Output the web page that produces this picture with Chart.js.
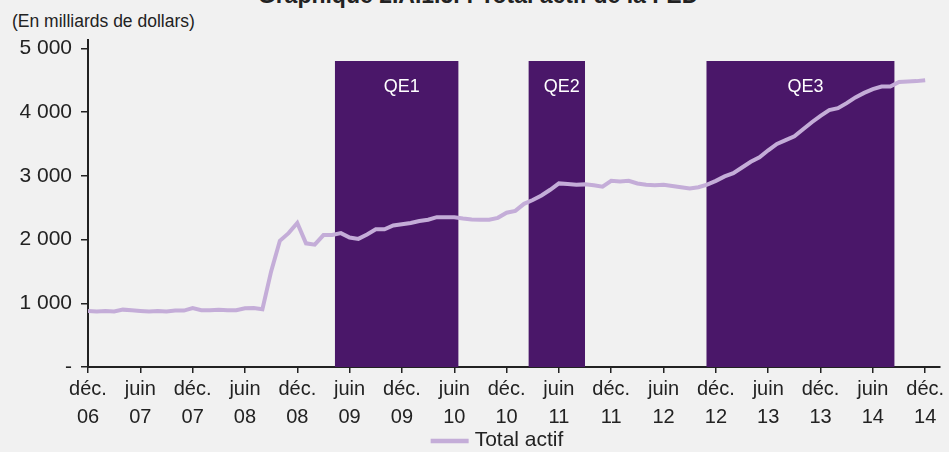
<!DOCTYPE html>
<html>
<head>
<meta charset="utf-8">
<script src="https://cdn.jsdelivr.net/npm/chart.js@4.4.0/dist/chart.umd.min.js"></script>
<style>
  body { margin: 0; background: #f1f1f1; }
  #wrap { position: relative; width: 949px; height: 452px; overflow: hidden; }
  #title { position: absolute; top: -18px; left: 0; width: 956px; text-align: center;
           font: bold 23px 'Liberation Sans', Arial, sans-serif; color: #222; }
  #unit { position: absolute; left: 12px; top: 11px; font: 17.5px 'Liberation Sans', Arial, sans-serif; color: #222; }
  canvas { position: absolute; left: 0; top: 0; }
</style>
</head>
<body>
<div id="wrap">
  <div id="title">Graphique 2.A.1.5. : Total actif de la FED</div>
  <div id="unit">(En milliards de dollars)</div>
  <canvas id="myChart" width="949" height="452"></canvas>
</div>
<script>
// Total actif de la FED, fin de mois, déc. 2006 -> déc. 2014 (milliards de dollars)
const totalActif = [
  880,                                                         // déc. 06
  870, 880, 870, 900, 890, 880, 870, 880, 870, 885, 885, 925,  // 2007
  890, 890, 900, 890, 890, 920, 925, 905, 1500, 1980, 2100, 2260, // 2008
  1940, 1920, 2070, 2070, 2100, 2030, 2010, 2080, 2160, 2160, 2220, 2240, // 2009
  2260, 2290, 2310, 2350, 2350, 2350, 2330, 2315, 2310, 2310, 2340, 2420, // 2010
  2450, 2560, 2620, 2690, 2780, 2880, 2870, 2860, 2865, 2850, 2830, 2920, // 2011
  2910, 2920, 2880, 2860, 2850, 2860, 2840, 2820, 2800, 2820, 2860, 2920, // 2012
  2990, 3040, 3130, 3220, 3290, 3400, 3500, 3560, 3620, 3730, 3840, 3940, // 2013
  4030, 4060, 4140, 4230, 4300, 4360, 4400, 4400, 4470, 4480, 4485, 4500  // 2014
];

// x tick labels, one every 6 months starting déc. 06
const xTickLabels = [
  ['déc.', '06'], ['juin', '07'], ['déc.', '07'], ['juin', '08'], ['déc.', '08'],
  ['juin', '09'], ['déc.', '09'], ['juin', '10'], ['déc.', '10'], ['juin', '11'],
  ['déc.', '11'], ['juin', '12'], ['déc.', '12'], ['juin', '13'], ['déc.', '13'],
  ['juin', '14'], ['déc.', '14']
];
const yTicks = [0, 1000, 2000, 3000, 4000, 5000];
const yTickLabels = ['-', '1 000', '2 000', '3 000', '4 000', '5 000'];

// QE periods, in months since déc. 06
const qeNames = ['QE1', 'QE2', 'QE3'];
const qeStart = [28.3, 50.5, 70.9];
const qeEnd = [42.5, 57.0, 92.5];
const qeTop = 4800;
const qeLabelY = 4400;

const FONT = "'Liberation Sans', Arial, sans-serif";
const INK = '#222';
const BAND = '#4a1769';
const LINE = '#c4add8';

const bandSets = qeNames.map((name, i) => ({
  label: name,
  data: [{ x: qeStart[i], y: qeTop }, { x: qeEnd[i], y: qeTop }],
  fill: 'origin',
  backgroundColor: BAND,
  borderColor: 'rgba(0,0,0,0)',
  borderWidth: 0,
  pointRadius: 0,
  order: 2
}));

const qeLabels = {
  id: 'qeLabels',
  afterDatasetsDraw(chart) {
    const ctx = chart.ctx;
    const xs = chart.scales.x, ys = chart.scales.y;
    ctx.save();
    ctx.fillStyle = '#fff';
    ctx.font = '18px ' + FONT;
    ctx.textAlign = 'center';
    ctx.textBaseline = 'middle';
    qeNames.forEach((name, i) => {
      const x = xs.getPixelForValue((qeStart[i] + qeEnd[i]) / 2) + 5;
      ctx.fillText(name, x, ys.getPixelForValue(qeLabelY));
    });
    ctx.restore();
  }
};

// simple legend under the axis: line sample + dataset label
const lineLegend = {
  id: 'lineLegend',
  afterDraw(chart) {
    const ds = chart.data.datasets[0];
    const ctx = chart.ctx;
    ctx.save();
    ctx.font = '21px ' + FONT;
    const tw = ctx.measureText(ds.label).width;
    const total = 38 + 6 + tw;
    const x0 = 497 - total / 2;
    const y = 441;
    ctx.strokeStyle = ds.borderColor;
    ctx.lineWidth = 4.5;
    ctx.beginPath();
    ctx.moveTo(x0, y);
    ctx.lineTo(x0 + 38, y);
    ctx.stroke();
    ctx.fillStyle = INK;
    ctx.textBaseline = 'middle';
    ctx.fillText(ds.label, x0 + 44, y - 1);
    ctx.restore();
  }
};

new Chart(document.getElementById('myChart'), {
  type: 'line',
  data: {
    datasets: [{
      label: 'Total actif',
      data: totalActif.map((v, i) => ({ x: i, y: v })),
      borderColor: LINE,
      backgroundColor: LINE,
      borderWidth: 4,
      pointRadius: 0,
      tension: 0,
      fill: false,
      order: 1
    }].concat(bandSets)
  },
  options: {
    responsive: false,
    animation: false,
    events: [],
    layout: { padding: { top: 40, right: 9, left: 0, bottom: 0 } },
    scales: {
      x: {
        type: 'linear',
        min: 0,
        max: 97.7,
        afterBuildTicks: (scale) => {
          scale.ticks = xTickLabels.map((l, i) => ({ value: i * 6 }));
        },
        afterFit: (scale) => { scale.height = 85; },
        ticks: {
          color: INK,
          font: { family: FONT, size: 20, lineHeight: 1.4 },
          padding: 2,
          maxRotation: 0,
          autoSkip: false,
          callback: (v) => xTickLabels[Math.round(v / 6)]
        },
        grid: { drawOnChartArea: false, color: INK, tickLength: 6, lineWidth: 1.5 },
        border: { color: INK, width: 2 }
      },
      y: {
        min: 0,
        max: 5130,
        afterBuildTicks: (scale) => {
          scale.ticks = yTicks.map(v => ({ value: v }));
        },
        afterFit: (scale) => { scale.width = 88; },
        ticks: {
          color: INK,
          font: { family: FONT, size: 21 },
          padding: 9,
          callback: (v) => yTickLabels[yTicks.indexOf(v)]
        },
        grid: { drawOnChartArea: false, color: INK, tickLength: 7, lineWidth: 1.5 },
        border: { color: INK, width: 2 }
      }
    },
    plugins: {
      tooltip: { enabled: false },
      legend: { display: false }
    }
  },
  plugins: [qeLabels, lineLegend]
});
</script>
</body>
</html>
